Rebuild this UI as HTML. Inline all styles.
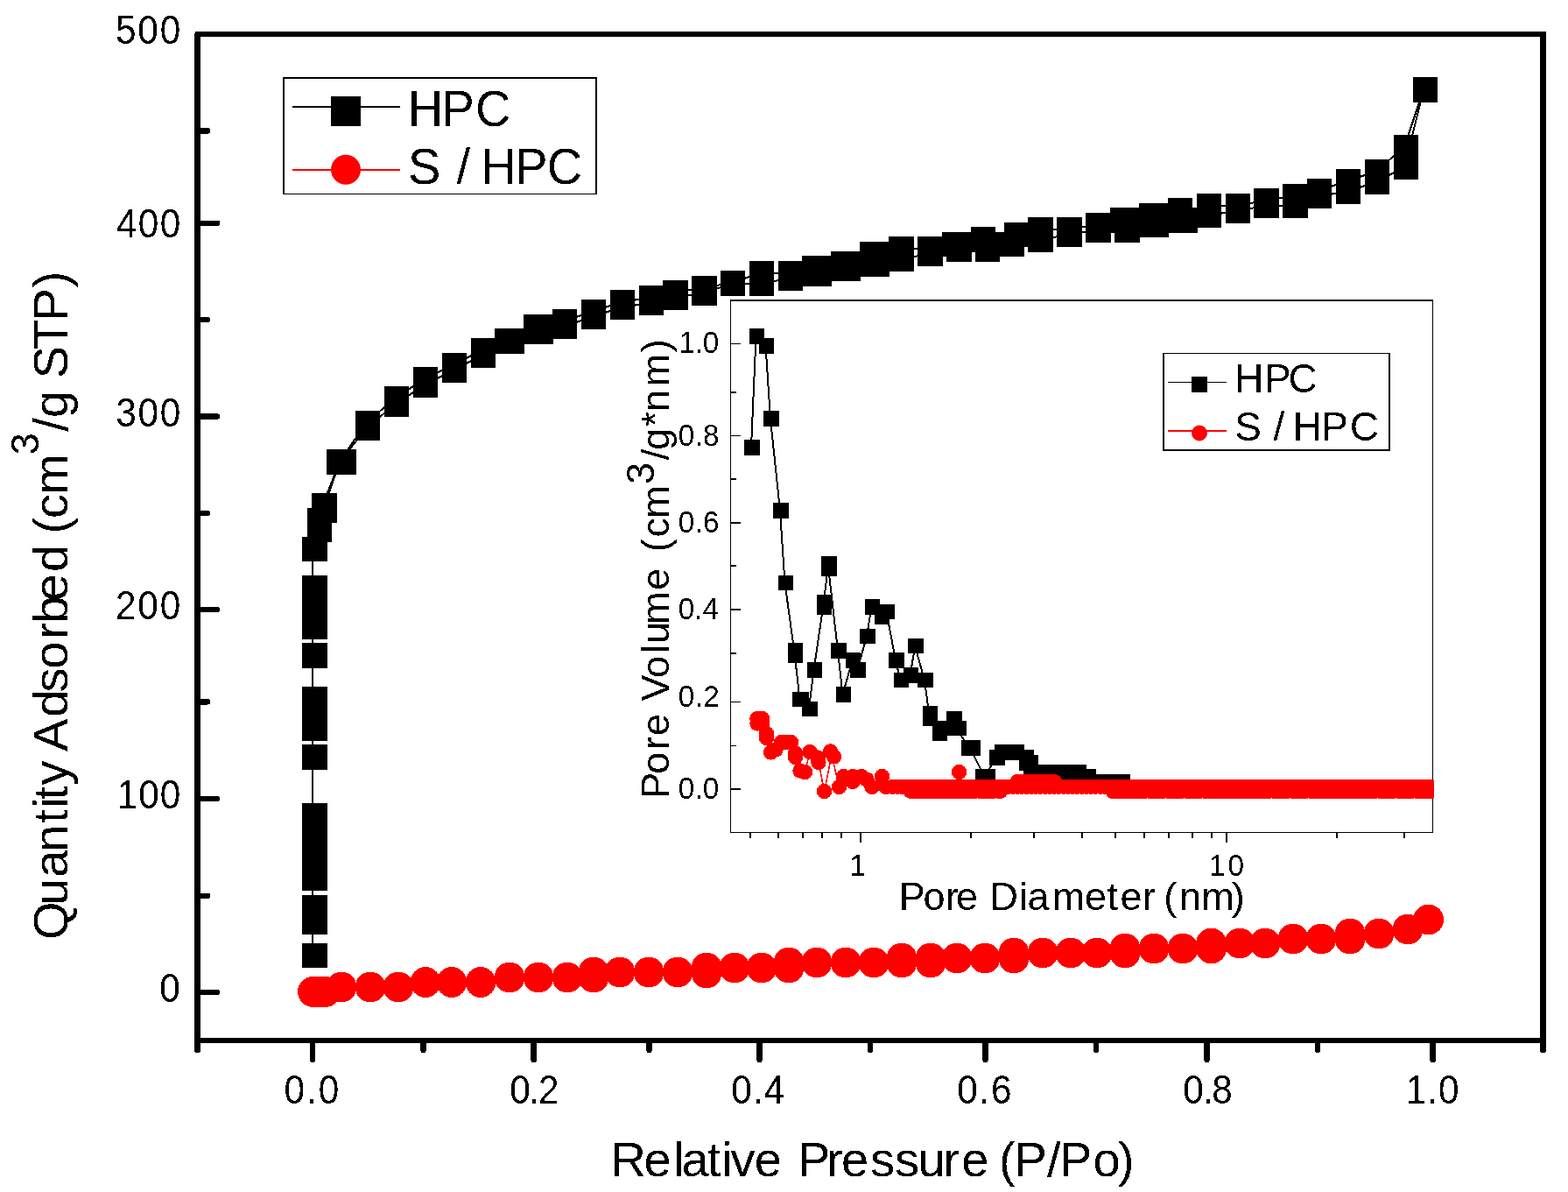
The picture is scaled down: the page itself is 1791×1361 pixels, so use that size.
<!DOCTYPE html>
<html lang="en"><head><meta charset="utf-8"><title>N2 adsorption isotherms of HPC and S / HPC</title>
<style>
html,body{margin:0;padding:0;background:#fff;width:1791px;height:1361px;overflow:hidden;}
svg{display:block;}
text{font-family:"Liberation Sans",Arial,Helvetica,sans-serif;fill:#000;white-space:pre;filter:url(#al);}
</style></head>
<body>
<svg width="1791" height="1361" viewBox="0 0 1791 1361">
<defs><filter id="al" x="-5%" y="-20%" width="110%" height="140%" color-interpolation-filters="sRGB"><feComponentTransfer><feFuncA type="discrete" tableValues="0 1"/></feComponentTransfer></filter></defs>
<rect width="1791" height="1361" fill="#fff"/>
<g shape-rendering="crispEdges">
<rect x="222" y="38" width="7" height="1161" fill="#000" />
<rect x="223" y="36" width="1543" height="6" fill="#000" />
<rect x="1759" y="36" width="7" height="1163" fill="#000" />
<rect x="222" y="1185" width="1544" height="6" fill="#000" />
</g>
<circle cx="225.5" cy="1198.7" r="3.5" fill="#000" shape-rendering="crispEdges"/>
<circle cx="1762.5" cy="1198.7" r="3.5" fill="#000" shape-rendering="crispEdges"/>
<line x1="227" y1="1133" x2="248" y2="1133" stroke="#000" stroke-width="6.4" stroke-linecap="round" shape-rendering="crispEdges"/>
<line x1="227" y1="912" x2="248" y2="912" stroke="#000" stroke-width="6.4" stroke-linecap="round" shape-rendering="crispEdges"/>
<line x1="227" y1="696" x2="248" y2="696" stroke="#000" stroke-width="6.4" stroke-linecap="round" shape-rendering="crispEdges"/>
<line x1="227" y1="475.5" x2="248" y2="475.5" stroke="#000" stroke-width="6.4" stroke-linecap="round" shape-rendering="crispEdges"/>
<line x1="227" y1="254.7" x2="248" y2="254.7" stroke="#000" stroke-width="6.4" stroke-linecap="round" shape-rendering="crispEdges"/>
<line x1="227" y1="1022.7" x2="237" y2="1022.7" stroke="#000" stroke-width="6.4" stroke-linecap="round" shape-rendering="crispEdges"/>
<line x1="227" y1="801.3" x2="237" y2="801.3" stroke="#000" stroke-width="6.4" stroke-linecap="round" shape-rendering="crispEdges"/>
<line x1="227" y1="586" x2="237" y2="586" stroke="#000" stroke-width="6.4" stroke-linecap="round" shape-rendering="crispEdges"/>
<line x1="227" y1="365" x2="237" y2="365" stroke="#000" stroke-width="6.4" stroke-linecap="round" shape-rendering="crispEdges"/>
<line x1="227" y1="149.4" x2="237" y2="149.4" stroke="#000" stroke-width="6.4" stroke-linecap="round" shape-rendering="crispEdges"/>
<line x1="357.2" y1="1190" x2="357.2" y2="1210" stroke="#000" stroke-width="6.4" stroke-linecap="round" shape-rendering="crispEdges"/>
<line x1="609.6" y1="1190" x2="609.6" y2="1210" stroke="#000" stroke-width="6.4" stroke-linecap="round" shape-rendering="crispEdges"/>
<line x1="867.5" y1="1190" x2="867.5" y2="1210" stroke="#000" stroke-width="6.4" stroke-linecap="round" shape-rendering="crispEdges"/>
<line x1="1125.5" y1="1190" x2="1125.5" y2="1210" stroke="#000" stroke-width="6.4" stroke-linecap="round" shape-rendering="crispEdges"/>
<line x1="1378.5" y1="1190" x2="1378.5" y2="1210" stroke="#000" stroke-width="6.4" stroke-linecap="round" shape-rendering="crispEdges"/>
<line x1="1636.6" y1="1190" x2="1636.6" y2="1210" stroke="#000" stroke-width="6.4" stroke-linecap="round" shape-rendering="crispEdges"/>
<line x1="483.5" y1="1190" x2="483.5" y2="1199" stroke="#000" stroke-width="6.4" stroke-linecap="round" shape-rendering="crispEdges"/>
<line x1="741.5" y1="1190" x2="741.5" y2="1199" stroke="#000" stroke-width="6.4" stroke-linecap="round" shape-rendering="crispEdges"/>
<line x1="994.2" y1="1190" x2="994.2" y2="1199" stroke="#000" stroke-width="6.4" stroke-linecap="round" shape-rendering="crispEdges"/>
<line x1="1252.2" y1="1190" x2="1252.2" y2="1199" stroke="#000" stroke-width="6.4" stroke-linecap="round" shape-rendering="crispEdges"/>
<line x1="1504.8" y1="1190" x2="1504.8" y2="1199" stroke="#000" stroke-width="6.4" stroke-linecap="round" shape-rendering="crispEdges"/>
<text transform="scale(0.962,1.05)" x="137.1 163.5 189.9" y="47.6" font-size="44">500</text>
<text transform="scale(0.962,1.05)" x="138.3 164.1 189.9" y="258.1" font-size="44">400</text>
<text transform="scale(0.962,1.05)" x="137.6 163.8 189.9" y="463.8" font-size="44">300</text>
<text transform="scale(0.962,1.05)" x="137.1 163.5 189.9" y="673.7" font-size="44">200</text>
<text transform="scale(0.962,1.05)" x="139.1 164.5 189.9" y="879.0" font-size="44">100</text>
<text transform="scale(0.962,1.05)" x="189.5" y="1089.5" font-size="44">0</text>
<text transform="scale(0.962,1.05)" x="337.2 363.7 378.1" y="1200.0" font-size="44">0.0</text>
<text transform="scale(0.962,1.05)" x="605.3 628.4 639.3" y="1200.0" font-size="44">0.2</text>
<text transform="scale(0.962,1.05)" x="868.3 893.9 907.2" y="1200.0" font-size="44">0.4</text>
<text transform="scale(0.962,1.05)" x="1136.5 1162.7 1176.6" y="1200.0" font-size="44">0.6</text>
<text transform="scale(0.962,1.05)" x="1404.7 1428.0 1439.0" y="1200.0" font-size="44">0.8</text>
<text transform="scale(0.962,1.05)" x="1669.2 1694.7 1708.0" y="1200.0" font-size="44">1.0</text>
<text transform="scale(1,1)"><tspan x="697.4 735.5 769.3 778.4 807.7 824.0 834.4 861.7 892.8 910.9 944.0 961.0 994.0 1021.9 1048.6 1077.5 1098.3 1129.5 1141.0 1158.6 1195.9 1210.0 1248.4 1276.9" y="1343.0" font-size="56">Relative Pressure (P/Po)</tspan></text>
<text transform="rotate(-90) scale(1,1)"><tspan x="-1072.9 -1034.0 -1001.8 -973.1 -939.8 -923.0 -913.3 -896.5 -868.5 -857.9 -818.8 -790.6 -763.8 -729.6 -711.8 -686.2 -653.1 -622.0 -609.4 -592.0 -564.7" y="77.0" font-size="56">Quantity Adsorbed (cm</tspan><tspan x="-519.3" y="44.0" font-size="45">3</tspan><tspan x="-492.8 -476.9 -445.8 -432.2 -399.1 -366.5 -328.3" y="77.0" font-size="56">/g STP)</tspan></text>
<g shape-rendering="crispEdges">
<rect x="323" y="88" width="359" height="134" fill="#fff" />
<rect x="323" y="88" width="2" height="134" fill="#000" />
<rect x="323" y="88" width="359" height="2" fill="#000" />
<rect x="680" y="88" width="2" height="134" fill="#000" />
<rect x="323" y="221" width="359" height="1" fill="#000" />
<rect x="334" y="121" width="123" height="2" fill="#000" />
<rect x="334" y="193" width="123" height="2" fill="#f00" />
</g>
<rect x="378" y="110" width="34" height="34" fill="#000" shape-rendering="crispEdges"/>
<circle cx="395" cy="193.8" r="17" fill="#f00" />
<text transform="scale(1,1.02)"><tspan x="465.8 504.5 543.1" y="141.2" font-size="56">HPC</tspan></text>
<text transform="scale(1,1.02)"><tspan x="466.1 503.4 521.6 537.2 548.9 588.3 624.8" y="205.9" font-size="56">S / HPC</tspan></text>
<g shape-rendering="crispEdges">
<rect x="356" y="620" width="2" height="475" fill="#000" />
<polyline points="357,627 363,594 368.5,577 388,527 418,483 451,455 484,433 517,417 550,400 580,389 613,373 643,367 676,356 709,345 742,340 769.5,334 802.5,329 835,323 868,312 901,312 931,306 964,301 997,290 1027.5,284 1060.5,284 1091,279 1093.5,285 1121,273 1126,279 1159,268 1154,279 1186.5,262 1219.5,262 1252.5,257 1283,251 1285.5,251 1316,246 1346,240 1352,251 1379,235 1412,235 1444.5,229 1477.5,224 1505,218 1538,207 1571,196 1604,168 1626,102" fill="none" stroke="#000" stroke-width="2" stroke-linejoin="round" />
<polyline points="357,627 363,605 368.5,583 388,528 418,489 451,462 484,440 517,423 550,406 580,390 613,379 643,373 676,362 709,351 742,346 769.5,340 802.5,335 835,324 868,324 901,318 931,313 964,307 997,302 1027.5,296 1060.5,290 1091,279 1093.5,285 1121,274 1126,285 1159,268 1154,279 1186.5,274 1219.5,268 1252.5,263 1283,252 1285.5,263 1316,257 1346,252 1352,252 1379,246 1412,241 1444.5,235 1477.5,235 1505,224 1538,219 1571,208 1604,191 1626,103" fill="none" stroke="#000" stroke-width="2" stroke-linejoin="round" />
<rect x="345" y="1077" width="29" height="28" fill="#000" />
<rect x="345" y="1022" width="29" height="45" fill="#000" />
<rect x="345" y="917" width="29" height="100" fill="#000" />
<rect x="345" y="850" width="29" height="29" fill="#000" />
<rect x="345" y="784" width="29" height="62" fill="#000" />
<rect x="345" y="734" width="29" height="29" fill="#000" />
<rect x="345" y="657" width="29" height="73" fill="#000" />
<rect x="345" y="613" width="29" height="28" fill="#000" />
<rect x="351" y="580" width="28" height="39" fill="#000" />
<rect x="356" y="563" width="29" height="34" fill="#000" />
<rect x="373" y="513" width="34" height="29" fill="#000" />
<rect x="406" y="469" width="28" height="34" fill="#000" />
<rect x="439" y="441" width="28" height="35" fill="#000" />
<rect x="472" y="419" width="28" height="35" fill="#000" />
<rect x="505" y="403" width="28" height="34" fill="#000" />
<rect x="538" y="386" width="28" height="34" fill="#000" />
<rect x="565" y="375" width="34" height="29" fill="#000" />
<rect x="598" y="359" width="34" height="34" fill="#000" />
<rect x="631" y="353" width="28" height="34" fill="#000" />
<rect x="664" y="342" width="28" height="34" fill="#000" />
<rect x="697" y="331" width="28" height="34" fill="#000" />
<rect x="730" y="326" width="28" height="34" fill="#000" />
<rect x="757" y="320" width="29" height="34" fill="#000" />
<rect x="790" y="315" width="29" height="34" fill="#000" />
<rect x="823" y="309" width="28" height="29" fill="#000" />
<rect x="856" y="298" width="28" height="40" fill="#000" />
<rect x="889" y="298" width="28" height="34" fill="#000" />
<rect x="916" y="292" width="34" height="35" fill="#000" />
<rect x="949" y="287" width="34" height="34" fill="#000" />
<rect x="982" y="276" width="34" height="40" fill="#000" />
<rect x="1015" y="270" width="29" height="40" fill="#000" />
<rect x="1048" y="270" width="29" height="34" fill="#000" />
<rect x="1076" y="265" width="34" height="28" fill="#000" />
<rect x="1081" y="271" width="29" height="28" fill="#000" />
<rect x="1109" y="259" width="28" height="29" fill="#000" />
<rect x="1114" y="265" width="28" height="34" fill="#000" />
<rect x="1147" y="254" width="28" height="28" fill="#000" />
<rect x="1142" y="265" width="28" height="28" fill="#000" />
<rect x="1174" y="248" width="29" height="40" fill="#000" />
<rect x="1207" y="248" width="29" height="34" fill="#000" />
<rect x="1240" y="243" width="29" height="34" fill="#000" />
<rect x="1268" y="237" width="34" height="29" fill="#000" />
<rect x="1273" y="237" width="29" height="40" fill="#000" />
<rect x="1301" y="232" width="34" height="39" fill="#000" />
<rect x="1334" y="226" width="28" height="40" fill="#000" />
<rect x="1340" y="237" width="28" height="29" fill="#000" />
<rect x="1367" y="221" width="28" height="39" fill="#000" />
<rect x="1400" y="221" width="28" height="34" fill="#000" />
<rect x="1432" y="215" width="29" height="34" fill="#000" />
<rect x="1465" y="210" width="29" height="39" fill="#000" />
<rect x="1493" y="204" width="28" height="34" fill="#000" />
<rect x="1526" y="193" width="28" height="40" fill="#000" />
<rect x="1559" y="182" width="28" height="40" fill="#000" />
<rect x="1592" y="154" width="28" height="51" fill="#000" />
<rect x="1614" y="88" width="28" height="29" fill="#000" />
</g>
<g shape-rendering="crispEdges">
<polyline points="357.4,1132.5 361,1132.5 365,1132.5 369,1132.5 372,1132.5 390,1127 423,1127 455,1127 486,1121.5 516,1121.5 549,1121.5 582,1116 615,1116 648,1116 678,1113 708,1110.5 741,1110.5 774,1110.5 807,1108 839,1105 870,1105 901,1102 933,1099 966,1099 998,1099 1030,1096.5 1063,1096.5 1093,1094 1125,1094 1158,1091 1191,1088 1223,1088 1253,1088 1285,1085.5 1318,1083 1351,1083 1383.6,1080 1416,1077 1445,1077 1477,1072 1509,1072 1542,1069 1575,1066 1608,1061 1631.6,1050" fill="none" stroke="#f00" stroke-width="1.6" stroke-linejoin="round" />
<circle cx="357.4" cy="1132.4" r="17.4" fill="#f00" />
<circle cx="361" cy="1132.4" r="17.4" fill="#f00" />
<circle cx="365" cy="1132.4" r="17.4" fill="#f00" />
<circle cx="369" cy="1132.4" r="17.4" fill="#f00" />
<circle cx="372" cy="1132.4" r="17.4" fill="#f00" />
<circle cx="390" cy="1127" r="17.4" fill="#f00" />
<circle cx="423" cy="1127" r="17.4" fill="#f00" />
<circle cx="455" cy="1127" r="17.4" fill="#f00" />
<circle cx="486" cy="1121.5" r="17.4" fill="#f00" />
<circle cx="516" cy="1121.5" r="17.4" fill="#f00" />
<circle cx="549" cy="1121.5" r="17.4" fill="#f00" />
<circle cx="582" cy="1116" r="17.4" fill="#f00" />
<circle cx="615" cy="1116" r="17.4" fill="#f00" />
<circle cx="648" cy="1116" r="17.4" fill="#f00" />
<circle cx="678" cy="1110" r="17.4" fill="#f00" />
<circle cx="678" cy="1116" r="17.4" fill="#f00" />
<circle cx="708" cy="1110" r="17.4" fill="#f00" />
<circle cx="741" cy="1110" r="17.4" fill="#f00" />
<circle cx="774" cy="1110" r="17.4" fill="#f00" />
<circle cx="807" cy="1105" r="17.4" fill="#f00" />
<circle cx="807" cy="1111" r="17.4" fill="#f00" />
<circle cx="839" cy="1105" r="17.4" fill="#f00" />
<circle cx="870" cy="1105" r="17.4" fill="#f00" />
<circle cx="901" cy="1099" r="17.4" fill="#f00" />
<circle cx="901" cy="1105" r="17.4" fill="#f00" />
<circle cx="933" cy="1099" r="17.4" fill="#f00" />
<circle cx="966" cy="1099" r="17.4" fill="#f00" />
<circle cx="998" cy="1099" r="17.4" fill="#f00" />
<circle cx="1030" cy="1094" r="17.4" fill="#f00" />
<circle cx="1030" cy="1099" r="17.4" fill="#f00" />
<circle cx="1063" cy="1094" r="17.4" fill="#f00" />
<circle cx="1063" cy="1099" r="17.4" fill="#f00" />
<circle cx="1093" cy="1094" r="17.4" fill="#f00" />
<circle cx="1125" cy="1094" r="17.4" fill="#f00" />
<circle cx="1158" cy="1088" r="17.4" fill="#f00" />
<circle cx="1158" cy="1094" r="17.4" fill="#f00" />
<circle cx="1191" cy="1088" r="17.4" fill="#f00" />
<circle cx="1223" cy="1088" r="17.4" fill="#f00" />
<circle cx="1253" cy="1088" r="17.4" fill="#f00" />
<circle cx="1285" cy="1083" r="17.4" fill="#f00" />
<circle cx="1285" cy="1088" r="17.4" fill="#f00" />
<circle cx="1318" cy="1083" r="17.4" fill="#f00" />
<circle cx="1351" cy="1083" r="17.4" fill="#f00" />
<circle cx="1383.6" cy="1077" r="17.4" fill="#f00" />
<circle cx="1383.6" cy="1083" r="17.4" fill="#f00" />
<circle cx="1416" cy="1077" r="17.4" fill="#f00" />
<circle cx="1445" cy="1077" r="17.4" fill="#f00" />
<circle cx="1477" cy="1072" r="17.4" fill="#f00" />
<circle cx="1509" cy="1072" r="17.4" fill="#f00" />
<circle cx="1542" cy="1066" r="17.4" fill="#f00" />
<circle cx="1542" cy="1072" r="17.4" fill="#f00" />
<circle cx="1575" cy="1066" r="17.4" fill="#f00" />
<circle cx="1608" cy="1061" r="17.4" fill="#f00" />
<circle cx="1631.6" cy="1050" r="17.4" fill="#f00" />
</g>
<g shape-rendering="crispEdges">
<rect x="834" y="342" width="803" height="609" fill="#fff" />
<rect x="834" y="342" width="1" height="609" fill="#000" />
<rect x="834" y="342" width="803" height="2" fill="#000" />
<rect x="1636" y="342" width="1" height="609" fill="#000" />
<rect x="834" y="950" width="803" height="1" fill="#000" />
</g>
<g shape-rendering="crispEdges">
<rect x="835" y="392" width="11" height="1" fill="#000" />
<rect x="835" y="447" width="6" height="2" fill="#000" />
<rect x="835" y="497" width="11" height="1" fill="#000" />
<rect x="835" y="546" width="6" height="2" fill="#000" />
<rect x="835" y="596" width="11" height="2" fill="#000" />
<rect x="835" y="645" width="6" height="2" fill="#000" />
<rect x="835" y="695" width="11" height="2" fill="#000" />
<rect x="835" y="745" width="6" height="2" fill="#000" />
<rect x="835" y="801" width="11" height="1" fill="#000" />
<rect x="835" y="851" width="6" height="1" fill="#000" />
<rect x="835" y="900" width="11" height="2" fill="#000" />
<rect x="982" y="951" width="2" height="11" fill="#000" />
<rect x="1400" y="951" width="2" height="11" fill="#000" />
<rect x="856" y="951" width="2" height="6" fill="#000" />
<rect x="888" y="951" width="2" height="6" fill="#000" />
<rect x="916" y="951" width="2" height="6" fill="#000" />
<rect x="938" y="951" width="2" height="6" fill="#000" />
<rect x="960" y="951" width="2" height="6" fill="#000" />
<rect x="1108" y="951" width="2" height="6" fill="#000" />
<rect x="1180" y="951" width="2" height="6" fill="#000" />
<rect x="1235" y="951" width="2" height="6" fill="#000" />
<rect x="1273" y="951" width="2" height="6" fill="#000" />
<rect x="1306" y="951" width="2" height="6" fill="#000" />
<rect x="1334" y="951" width="2" height="6" fill="#000" />
<rect x="1361" y="951" width="2" height="6" fill="#000" />
<rect x="1383" y="951" width="2" height="6" fill="#000" />
<rect x="1526" y="951" width="2" height="6" fill="#000" />
<rect x="1603" y="951" width="2" height="6" fill="#000" />
</g>
<text transform="scale(0.976,1.05)" x="794.5 813.3 822.6" y="384.0" font-size="34">1.0</text>
<text transform="scale(0.976,1.05)" x="793.8 813.0 822.7" y="484.9" font-size="34">0.8</text>
<text transform="scale(0.976,1.05)" x="793.8 813.0 822.7" y="579.2" font-size="34">0.6</text>
<text transform="scale(0.976,1.05)" x="793.8 812.7 822.3" y="673.4" font-size="34">0.4</text>
<text transform="scale(0.976,1.05)" x="793.8 813.1 823.0" y="768.4" font-size="34">0.2</text>
<text transform="scale(0.976,1.05)" x="793.8 812.9 822.6" y="868.6" font-size="34">0.0</text>
<text transform="scale(0.976,1.05)" x="994.1" y="952.4" font-size="34">1</text>
<text transform="scale(0.976,1.05)" x="1414.9 1436.9" y="952.4" font-size="34">10</text>
<text transform="scale(1,1)"><tspan x="1026.8 1054.5 1079.9 1092.0 1117.1 1130.5 1164.0 1173.5 1201.7 1239.0 1264.6 1279.5 1304.9 1319.9 1329.2 1347.0 1372.2 1406.8" y="1039.0" font-size="45">Pore Diameter (nm)</tspan></text>
<text transform="rotate(-90) scale(1,1)"><tspan x="-911.7 -883.8 -856.1 -840.0 -815.0 -800.5 -774.0 -745.8 -735.2 -712.9 -673.8 -648.7 -630.2 -613.4 -591.7" y="764.2" font-size="45">Pore Volume (cm</tspan><tspan x="-552.9" y="747.0" font-size="45">3</tspan><tspan x="-525.3 -513.8 -487.3 -470.0 -441.6 -402.3" y="764.2" font-size="45">/g*nm)</tspan></text>
<g shape-rendering="crispEdges">
<rect x="1328" y="403" width="260" height="112" fill="#fff" />
<rect x="1328" y="403" width="2" height="112" fill="#000" />
<rect x="1328" y="403" width="260" height="1" fill="#000" />
<rect x="1586" y="403" width="2" height="112" fill="#000" />
<rect x="1328" y="513" width="260" height="2" fill="#000" />
<rect x="1334" y="436" width="67" height="1" fill="#000" />
<rect x="1361" y="430" width="18" height="18" fill="#000" />
<rect x="1334" y="491" width="67" height="2" fill="#f00" />
</g>
<circle cx="1370" cy="494.5" r="9" fill="#f00" />
<text transform="scale(1,1.02)"><tspan x="1410.2 1443.9 1471.5" y="439.0" font-size="46">HPC</tspan></text>
<text transform="scale(1,1.02)"><tspan x="1410.2 1440.9 1454.4 1467.2 1476.4 1509.2 1541.8" y="492.9" font-size="46">S / HPC</tspan></text>
<g shape-rendering="crispEdges">
<polyline points="858,511.2 863.5,383.8 874.5,394.8 880,478.2 891,583.2 896.5,665.5 907.5,745.7 913.5,798.7 924,809.5 929.5,765.2 940.5,690.5 946,646.5 957,743.2 962.5,793.2 973.5,754.2 979,765.2 990,726.7 995.5,693.2 1006.5,704.2 1012.5,698.5 1023,754.2 1028.5,776.5 1039.5,771.2 1045.2,737.9 1056,776.5 1061.5,817.7 1072.5,834.5 1089,820.7 1091.5,831.5 1108,854.2 1124.5,887 1138,865 1152,859 1171.5,868 1176.5,873 1212,881.7" fill="none" stroke="#000" stroke-width="2" stroke-linejoin="round" />
<rect x="850" y="502.4" width="18" height="17.6" fill="#000" />
<rect x="856" y="375" width="17" height="17.6" fill="#000" />
<rect x="867" y="386" width="17" height="17.6" fill="#000" />
<rect x="872" y="469.4" width="18" height="17.6" fill="#000" />
<rect x="883" y="574.4" width="18" height="17.6" fill="#000" />
<rect x="889" y="657" width="17" height="17" fill="#000" />
<rect x="900" y="734.4" width="17" height="22.6" fill="#000" />
<rect x="905" y="790.4" width="19" height="16.6" fill="#000" />
<rect x="916" y="801" width="18" height="17" fill="#000" />
<rect x="922" y="756.4" width="17" height="17.6" fill="#000" />
<rect x="933" y="679" width="17" height="23" fill="#000" />
<rect x="938" y="635" width="18" height="23" fill="#000" />
<rect x="949" y="734.4" width="18" height="17.6" fill="#000" />
<rect x="955" y="784.4" width="17" height="17.6" fill="#000" />
<rect x="966" y="745.4" width="17" height="17.6" fill="#000" />
<rect x="971" y="756.4" width="18" height="17.6" fill="#000" />
<rect x="982" y="718" width="18" height="17.4" fill="#000" />
<rect x="988" y="684.4" width="17" height="17.6" fill="#000" />
<rect x="999" y="695.4" width="17" height="17.6" fill="#000" />
<rect x="1005" y="690" width="17" height="17" fill="#000" />
<rect x="1015" y="745.4" width="18" height="17.6" fill="#000" />
<rect x="1021" y="768" width="17" height="17" fill="#000" />
<rect x="1032" y="762.4" width="17" height="17.6" fill="#000" />
<rect x="1037.4" y="729.4" width="17.6" height="17" fill="#000" />
<rect x="1048" y="768" width="18" height="17" fill="#000" />
<rect x="1054" y="806.4" width="17" height="22.6" fill="#000" />
<rect x="1065" y="823" width="17" height="23" fill="#000" />
<rect x="1081" y="812.4" width="18" height="16.6" fill="#000" />
<rect x="1081" y="823" width="23" height="17" fill="#000" />
<rect x="1098" y="845.4" width="22" height="17.6" fill="#000" />
<rect x="1114" y="878" width="23" height="18" fill="#000" />
<rect x="1130" y="856" width="18" height="18" fill="#000" />
<rect x="1136" y="850" width="34" height="18" fill="#000" />
<rect x="1164" y="856" width="17" height="24" fill="#000" />
<rect x="1169" y="862" width="17" height="22" fill="#000" />
<rect x="1185" y="873.4" width="56" height="16.6" fill="#000" />
<rect x="1240" y="878" width="12" height="12" fill="#000" />
<rect x="1251" y="884" width="40" height="18" fill="#000" />
<rect x="1290" y="891" width="347" height="18" fill="#000" />
</g>
<clipPath id="ic"><rect x="835" y="344" width="802.5" height="606"/></clipPath>
<g shape-rendering="crispEdges" clip-path="url(#ic)">
<polyline points="934.5,868 941.5,903.5 950,862 958.5,898.5" fill="none" stroke="#f00" stroke-width="1.6" stroke-linejoin="round" />
<polyline points="865,820.5 870.5,826 875.5,837.5 875.5,842.5 880.5,859 886,856 892.5,847.5 898,847.5 903.5,847.5 908.5,860 908.5,864.5 914,880 919.5,881.5 925,858.5 934,865 935,870.5 948.5,858 952.5,864" fill="none" stroke="#f00" stroke-width="1.6" stroke-linejoin="round" />
<circle cx="865" cy="820.5" r="8.7" fill="#f00" />
<circle cx="870.5" cy="826" r="8.7" fill="#f00" />
<circle cx="875.5" cy="837.5" r="8.7" fill="#f00" />
<circle cx="875.5" cy="842.5" r="8.7" fill="#f00" />
<circle cx="880.5" cy="859" r="8.7" fill="#f00" />
<circle cx="886" cy="856" r="8.7" fill="#f00" />
<circle cx="892.5" cy="847.5" r="8.7" fill="#f00" />
<circle cx="898" cy="847.5" r="8.7" fill="#f00" />
<circle cx="903.5" cy="847.5" r="8.7" fill="#f00" />
<circle cx="908.5" cy="860" r="8.7" fill="#f00" />
<circle cx="908.5" cy="864.5" r="8.7" fill="#f00" />
<circle cx="914" cy="880" r="8.7" fill="#f00" />
<circle cx="919.5" cy="881.5" r="8.7" fill="#f00" />
<circle cx="925" cy="858.5" r="8.7" fill="#f00" />
<circle cx="934" cy="865" r="8.7" fill="#f00" />
<circle cx="935" cy="870.5" r="8.7" fill="#f00" />
<circle cx="948.5" cy="858" r="8.7" fill="#f00" />
<circle cx="952.5" cy="864" r="8.7" fill="#f00" />
<circle cx="941.5" cy="903.5" r="8.7" fill="#f00" />
<circle cx="958.5" cy="898.5" r="8.7" fill="#f00" />
<circle cx="963.5" cy="886.5" r="8.7" fill="#f00" />
<circle cx="974" cy="892.5" r="8.7" fill="#f00" />
<circle cx="984" cy="886.5" r="8.7" fill="#f00" />
<circle cx="990" cy="890" r="8.7" fill="#f00" />
<circle cx="996" cy="898.5" r="8.7" fill="#f00" />
<circle cx="1007.5" cy="886.5" r="8.7" fill="#f00" />
<circle cx="1012" cy="898.5" r="8.7" fill="#f00" />
<circle cx="1095.5" cy="881.5" r="8.7" fill="#f00" />
<circle cx="870.5" cy="820.5" r="8.7" fill="#f00" />
<circle cx="865" cy="826" r="8.7" fill="#f00" />
<circle cx="974" cy="886.5" r="8.7" fill="#f00" />
<circle cx="1020" cy="898.2" r="8.7" fill="#f00" />
<circle cx="1025.26" cy="898.2" r="8.7" fill="#f00" />
<circle cx="1030.52" cy="898.2" r="8.7" fill="#f00" />
<circle cx="1035.78" cy="898.2" r="8.7" fill="#f00" />
<circle cx="1041.04" cy="898.2" r="8.7" fill="#f00" />
<circle cx="1046.3" cy="898.2" r="8.7" fill="#f00" />
<circle cx="1051.56" cy="898.2" r="8.7" fill="#f00" />
<circle cx="1056.82" cy="898.2" r="8.7" fill="#f00" />
<circle cx="1062.08" cy="898.2" r="8.7" fill="#f00" />
<circle cx="1067.34" cy="898.2" r="8.7" fill="#f00" />
<circle cx="1072.6" cy="898.2" r="8.7" fill="#f00" />
<circle cx="1077.86" cy="898.2" r="8.7" fill="#f00" />
<circle cx="1083.12" cy="898.2" r="8.7" fill="#f00" />
<circle cx="1088.38" cy="898.2" r="8.7" fill="#f00" />
<circle cx="1093.64" cy="898.2" r="8.7" fill="#f00" />
<circle cx="1098.9" cy="898.2" r="8.7" fill="#f00" />
<circle cx="1104.16" cy="898.2" r="8.7" fill="#f00" />
<circle cx="1109.42" cy="898.2" r="8.7" fill="#f00" />
<circle cx="1114.68" cy="898.2" r="8.7" fill="#f00" />
<circle cx="1119.94" cy="898.2" r="8.7" fill="#f00" />
<circle cx="1125.2" cy="898.2" r="8.7" fill="#f00" />
<circle cx="1130.46" cy="898.2" r="8.7" fill="#f00" />
<circle cx="1135.72" cy="898.2" r="8.7" fill="#f00" />
<circle cx="1140.98" cy="898.2" r="8.7" fill="#f00" />
<circle cx="1146.24" cy="898.2" r="8.7" fill="#f00" />
<circle cx="1151.5" cy="898.2" r="8.7" fill="#f00" />
<circle cx="1156.76" cy="898.2" r="8.7" fill="#f00" />
<circle cx="1162.02" cy="898.2" r="8.7" fill="#f00" />
<circle cx="1167.28" cy="898.2" r="8.7" fill="#f00" />
<circle cx="1172.54" cy="898.2" r="8.7" fill="#f00" />
<circle cx="1177.8" cy="898.2" r="8.7" fill="#f00" />
<circle cx="1183.06" cy="898.2" r="8.7" fill="#f00" />
<circle cx="1188.32" cy="898.2" r="8.7" fill="#f00" />
<circle cx="1193.58" cy="898.2" r="8.7" fill="#f00" />
<circle cx="1198.84" cy="898.2" r="8.7" fill="#f00" />
<circle cx="1204.1" cy="898.2" r="8.7" fill="#f00" />
<circle cx="1209.36" cy="898.2" r="8.7" fill="#f00" />
<circle cx="1214.62" cy="898.2" r="8.7" fill="#f00" />
<circle cx="1219.88" cy="898.2" r="8.7" fill="#f00" />
<circle cx="1225.14" cy="898.2" r="8.7" fill="#f00" />
<circle cx="1230.4" cy="898.2" r="8.7" fill="#f00" />
<circle cx="1235.66" cy="898.2" r="8.7" fill="#f00" />
<circle cx="1240.92" cy="898.2" r="8.7" fill="#f00" />
<circle cx="1246.18" cy="898.2" r="8.7" fill="#f00" />
<circle cx="1251.44" cy="898.2" r="8.7" fill="#f00" />
<circle cx="1256.7" cy="898.2" r="8.7" fill="#f00" />
<circle cx="1261.96" cy="898.2" r="8.7" fill="#f00" />
<circle cx="1267.22" cy="898.2" r="8.7" fill="#f00" />
<circle cx="1272.48" cy="898.2" r="8.7" fill="#f00" />
<circle cx="1277.74" cy="898.2" r="8.7" fill="#f00" />
<circle cx="1283" cy="898.2" r="8.7" fill="#f00" />
<circle cx="1288.26" cy="898.2" r="8.7" fill="#f00" />
<circle cx="1293.52" cy="898.2" r="8.7" fill="#f00" />
<circle cx="1298.78" cy="898.2" r="8.7" fill="#f00" />
<circle cx="1304.04" cy="898.2" r="8.7" fill="#f00" />
<circle cx="1309.3" cy="898.2" r="8.7" fill="#f00" />
<circle cx="1314.56" cy="898.2" r="8.7" fill="#f00" />
<circle cx="1319.82" cy="898.2" r="8.7" fill="#f00" />
<circle cx="1325.08" cy="898.2" r="8.7" fill="#f00" />
<circle cx="1330.34" cy="898.2" r="8.7" fill="#f00" />
<circle cx="1335.6" cy="898.2" r="8.7" fill="#f00" />
<circle cx="1340.86" cy="898.2" r="8.7" fill="#f00" />
<circle cx="1346.12" cy="898.2" r="8.7" fill="#f00" />
<circle cx="1351.38" cy="898.2" r="8.7" fill="#f00" />
<circle cx="1356.64" cy="898.2" r="8.7" fill="#f00" />
<circle cx="1361.9" cy="898.2" r="8.7" fill="#f00" />
<circle cx="1367.16" cy="898.2" r="8.7" fill="#f00" />
<circle cx="1372.42" cy="898.2" r="8.7" fill="#f00" />
<circle cx="1377.68" cy="898.2" r="8.7" fill="#f00" />
<circle cx="1382.94" cy="898.2" r="8.7" fill="#f00" />
<circle cx="1388.2" cy="898.2" r="8.7" fill="#f00" />
<circle cx="1393.46" cy="898.2" r="8.7" fill="#f00" />
<circle cx="1398.72" cy="898.2" r="8.7" fill="#f00" />
<circle cx="1403.98" cy="898.2" r="8.7" fill="#f00" />
<circle cx="1409.24" cy="898.2" r="8.7" fill="#f00" />
<circle cx="1414.5" cy="898.2" r="8.7" fill="#f00" />
<circle cx="1419.76" cy="898.2" r="8.7" fill="#f00" />
<circle cx="1425.02" cy="898.2" r="8.7" fill="#f00" />
<circle cx="1430.28" cy="898.2" r="8.7" fill="#f00" />
<circle cx="1435.54" cy="898.2" r="8.7" fill="#f00" />
<circle cx="1440.8" cy="898.2" r="8.7" fill="#f00" />
<circle cx="1446.06" cy="898.2" r="8.7" fill="#f00" />
<circle cx="1451.32" cy="898.2" r="8.7" fill="#f00" />
<circle cx="1456.58" cy="898.2" r="8.7" fill="#f00" />
<circle cx="1461.84" cy="898.2" r="8.7" fill="#f00" />
<circle cx="1467.1" cy="898.2" r="8.7" fill="#f00" />
<circle cx="1472.36" cy="898.2" r="8.7" fill="#f00" />
<circle cx="1477.62" cy="898.2" r="8.7" fill="#f00" />
<circle cx="1482.88" cy="898.2" r="8.7" fill="#f00" />
<circle cx="1488.14" cy="898.2" r="8.7" fill="#f00" />
<circle cx="1493.4" cy="898.2" r="8.7" fill="#f00" />
<circle cx="1498.66" cy="898.2" r="8.7" fill="#f00" />
<circle cx="1503.92" cy="898.2" r="8.7" fill="#f00" />
<circle cx="1509.18" cy="898.2" r="8.7" fill="#f00" />
<circle cx="1514.44" cy="898.2" r="8.7" fill="#f00" />
<circle cx="1519.7" cy="898.2" r="8.7" fill="#f00" />
<circle cx="1524.96" cy="898.2" r="8.7" fill="#f00" />
<circle cx="1530.22" cy="898.2" r="8.7" fill="#f00" />
<circle cx="1535.48" cy="898.2" r="8.7" fill="#f00" />
<circle cx="1540.74" cy="898.2" r="8.7" fill="#f00" />
<circle cx="1546" cy="898.2" r="8.7" fill="#f00" />
<circle cx="1551.26" cy="898.2" r="8.7" fill="#f00" />
<circle cx="1556.52" cy="898.2" r="8.7" fill="#f00" />
<circle cx="1561.78" cy="898.2" r="8.7" fill="#f00" />
<circle cx="1567.04" cy="898.2" r="8.7" fill="#f00" />
<circle cx="1572.3" cy="898.2" r="8.7" fill="#f00" />
<circle cx="1577.56" cy="898.2" r="8.7" fill="#f00" />
<circle cx="1582.82" cy="898.2" r="8.7" fill="#f00" />
<circle cx="1588.08" cy="898.2" r="8.7" fill="#f00" />
<circle cx="1593.34" cy="898.2" r="8.7" fill="#f00" />
<circle cx="1598.6" cy="898.2" r="8.7" fill="#f00" />
<circle cx="1603.86" cy="898.2" r="8.7" fill="#f00" />
<circle cx="1609.12" cy="898.2" r="8.7" fill="#f00" />
<circle cx="1614.38" cy="898.2" r="8.7" fill="#f00" />
<circle cx="1619.64" cy="898.2" r="8.7" fill="#f00" />
<circle cx="1624.9" cy="898.2" r="8.7" fill="#f00" />
<circle cx="1630.16" cy="898.2" r="8.7" fill="#f00" />
<circle cx="1635.42" cy="898.2" r="8.7" fill="#f00" />
<circle cx="1640" cy="898.2" r="8.7" fill="#f00" />
<rect x="1020" y="892" width="620" height="12.4" fill="#f00" />
<circle cx="1040.2" cy="903.3" r="8.7" fill="#f00" />
<circle cx="1045.46" cy="903.3" r="8.7" fill="#f00" />
<circle cx="1050.72" cy="903.3" r="8.7" fill="#f00" />
<circle cx="1055.98" cy="903.3" r="8.7" fill="#f00" />
<circle cx="1061.24" cy="903.3" r="8.7" fill="#f00" />
<circle cx="1066.5" cy="903.3" r="8.7" fill="#f00" />
<circle cx="1071.76" cy="903.3" r="8.7" fill="#f00" />
<circle cx="1077.02" cy="903.3" r="8.7" fill="#f00" />
<circle cx="1082.28" cy="903.3" r="8.7" fill="#f00" />
<circle cx="1087.54" cy="903.3" r="8.7" fill="#f00" />
<circle cx="1092.8" cy="903.3" r="8.7" fill="#f00" />
<circle cx="1098.06" cy="903.3" r="8.7" fill="#f00" />
<circle cx="1103.32" cy="903.3" r="8.7" fill="#f00" />
<circle cx="1108.58" cy="903.3" r="8.7" fill="#f00" />
<circle cx="1113.84" cy="903.3" r="8.7" fill="#f00" />
<circle cx="1119.1" cy="903.3" r="8.7" fill="#f00" />
<circle cx="1124.36" cy="903.3" r="8.7" fill="#f00" />
<circle cx="1129.62" cy="903.3" r="8.7" fill="#f00" />
<circle cx="1134.88" cy="903.3" r="8.7" fill="#f00" />
<circle cx="1140.14" cy="903.3" r="8.7" fill="#f00" />
<circle cx="1142.5" cy="903.3" r="8.7" fill="#f00" />
<rect x="1040.2" y="897.1" width="102.3" height="12.4" fill="#f00" />
<circle cx="1271" cy="903.3" r="8.7" fill="#f00" />
<circle cx="1276.26" cy="903.3" r="8.7" fill="#f00" />
<circle cx="1281.52" cy="903.3" r="8.7" fill="#f00" />
<circle cx="1286.78" cy="903.3" r="8.7" fill="#f00" />
<circle cx="1292.04" cy="903.3" r="8.7" fill="#f00" />
<circle cx="1297.3" cy="903.3" r="8.7" fill="#f00" />
<circle cx="1302.56" cy="903.3" r="8.7" fill="#f00" />
<circle cx="1307.82" cy="903.3" r="8.7" fill="#f00" />
<circle cx="1313.08" cy="903.3" r="8.7" fill="#f00" />
<circle cx="1318.34" cy="903.3" r="8.7" fill="#f00" />
<circle cx="1323.6" cy="903.3" r="8.7" fill="#f00" />
<circle cx="1328.86" cy="903.3" r="8.7" fill="#f00" />
<circle cx="1334.12" cy="903.3" r="8.7" fill="#f00" />
<circle cx="1339.38" cy="903.3" r="8.7" fill="#f00" />
<circle cx="1344.64" cy="903.3" r="8.7" fill="#f00" />
<circle cx="1349.9" cy="903.3" r="8.7" fill="#f00" />
<circle cx="1355.16" cy="903.3" r="8.7" fill="#f00" />
<circle cx="1360.42" cy="903.3" r="8.7" fill="#f00" />
<circle cx="1365.68" cy="903.3" r="8.7" fill="#f00" />
<circle cx="1370.94" cy="903.3" r="8.7" fill="#f00" />
<circle cx="1376.2" cy="903.3" r="8.7" fill="#f00" />
<circle cx="1381.46" cy="903.3" r="8.7" fill="#f00" />
<circle cx="1386.72" cy="903.3" r="8.7" fill="#f00" />
<circle cx="1391.98" cy="903.3" r="8.7" fill="#f00" />
<circle cx="1397.24" cy="903.3" r="8.7" fill="#f00" />
<circle cx="1402.5" cy="903.3" r="8.7" fill="#f00" />
<circle cx="1407.76" cy="903.3" r="8.7" fill="#f00" />
<circle cx="1413.02" cy="903.3" r="8.7" fill="#f00" />
<circle cx="1418.28" cy="903.3" r="8.7" fill="#f00" />
<circle cx="1423.54" cy="903.3" r="8.7" fill="#f00" />
<circle cx="1428.8" cy="903.3" r="8.7" fill="#f00" />
<circle cx="1434.06" cy="903.3" r="8.7" fill="#f00" />
<circle cx="1439.32" cy="903.3" r="8.7" fill="#f00" />
<circle cx="1444.58" cy="903.3" r="8.7" fill="#f00" />
<circle cx="1449.84" cy="903.3" r="8.7" fill="#f00" />
<circle cx="1455.1" cy="903.3" r="8.7" fill="#f00" />
<circle cx="1460.36" cy="903.3" r="8.7" fill="#f00" />
<circle cx="1465.62" cy="903.3" r="8.7" fill="#f00" />
<circle cx="1470.88" cy="903.3" r="8.7" fill="#f00" />
<circle cx="1476.14" cy="903.3" r="8.7" fill="#f00" />
<circle cx="1481.4" cy="903.3" r="8.7" fill="#f00" />
<circle cx="1486.66" cy="903.3" r="8.7" fill="#f00" />
<circle cx="1491.92" cy="903.3" r="8.7" fill="#f00" />
<circle cx="1497.18" cy="903.3" r="8.7" fill="#f00" />
<circle cx="1502.44" cy="903.3" r="8.7" fill="#f00" />
<circle cx="1507.7" cy="903.3" r="8.7" fill="#f00" />
<circle cx="1512.96" cy="903.3" r="8.7" fill="#f00" />
<circle cx="1518.22" cy="903.3" r="8.7" fill="#f00" />
<circle cx="1523.48" cy="903.3" r="8.7" fill="#f00" />
<circle cx="1528.74" cy="903.3" r="8.7" fill="#f00" />
<circle cx="1534" cy="903.3" r="8.7" fill="#f00" />
<circle cx="1539.26" cy="903.3" r="8.7" fill="#f00" />
<circle cx="1544.52" cy="903.3" r="8.7" fill="#f00" />
<circle cx="1549.78" cy="903.3" r="8.7" fill="#f00" />
<circle cx="1555.04" cy="903.3" r="8.7" fill="#f00" />
<circle cx="1560.3" cy="903.3" r="8.7" fill="#f00" />
<circle cx="1565.56" cy="903.3" r="8.7" fill="#f00" />
<circle cx="1570.82" cy="903.3" r="8.7" fill="#f00" />
<circle cx="1576.08" cy="903.3" r="8.7" fill="#f00" />
<circle cx="1581.34" cy="903.3" r="8.7" fill="#f00" />
<circle cx="1586.6" cy="903.3" r="8.7" fill="#f00" />
<circle cx="1591.86" cy="903.3" r="8.7" fill="#f00" />
<circle cx="1597.12" cy="903.3" r="8.7" fill="#f00" />
<circle cx="1602.38" cy="903.3" r="8.7" fill="#f00" />
<circle cx="1607.64" cy="903.3" r="8.7" fill="#f00" />
<circle cx="1612.9" cy="903.3" r="8.7" fill="#f00" />
<circle cx="1618.16" cy="903.3" r="8.7" fill="#f00" />
<circle cx="1623.42" cy="903.3" r="8.7" fill="#f00" />
<circle cx="1628.68" cy="903.3" r="8.7" fill="#f00" />
<circle cx="1633.94" cy="903.3" r="8.7" fill="#f00" />
<circle cx="1639.2" cy="903.3" r="8.7" fill="#f00" />
<circle cx="1640" cy="903.3" r="8.7" fill="#f00" />
<rect x="1271" y="897.1" width="369" height="12.4" fill="#f00" />
<circle cx="1162" cy="892.7" r="8.7" fill="#f00" />
<circle cx="1167.26" cy="892.7" r="8.7" fill="#f00" />
<circle cx="1172.52" cy="892.7" r="8.7" fill="#f00" />
<circle cx="1177.78" cy="892.7" r="8.7" fill="#f00" />
<circle cx="1183.04" cy="892.7" r="8.7" fill="#f00" />
<circle cx="1188.3" cy="892.7" r="8.7" fill="#f00" />
<circle cx="1193.56" cy="892.7" r="8.7" fill="#f00" />
<circle cx="1198.82" cy="892.7" r="8.7" fill="#f00" />
<circle cx="1204.08" cy="892.7" r="8.7" fill="#f00" />
<circle cx="1204.5" cy="892.7" r="8.7" fill="#f00" />
<rect x="1162" y="886.5" width="42.5" height="12.4" fill="#f00" />
</g>
</svg>
</body></html>
